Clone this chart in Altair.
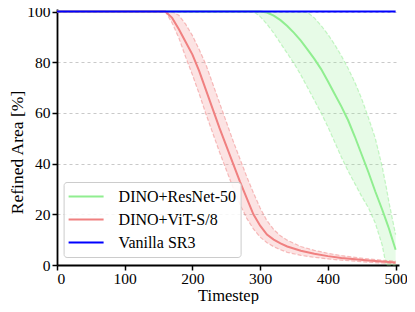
import altair as alt
import pandas as pd

# ---- data ----
red_t    = [0, 150, 160, 170, 180, 190, 200, 210, 220, 230, 240, 250, 260, 270, 280, 290, 300, 310, 320, 330, 340, 360, 380, 400, 420, 440, 460, 480, 500]
red_mean = [100, 100, 100, 97.5, 93, 88, 83, 76.5, 69, 61.5, 54, 47, 40, 33, 26.5, 20, 15.5, 12, 10, 8.5, 7.3, 5.6, 4.4, 3.5, 2.8, 2.3, 1.8, 1.4, 1.0]
red_lo   = [100, 100, 100, 95.5, 89.5, 82, 75, 67.5, 59.5, 52, 44.5, 37.5, 30.5, 24, 18.5, 14.2, 11, 8.8, 7.2, 6, 5, 3.8, 3, 2.4, 1.9, 1.5, 1.1, 0.8, 0.5]
red_hi   = [100, 100, 100, 100, 98.5, 95, 90.5, 85, 79, 71.5, 64, 56.5, 49, 42, 35, 28.5, 22.5, 17.5, 14, 11.5, 9.8, 7.3, 5.8, 4.6, 3.7, 3.0, 2.4, 1.9, 1.5]

green_t    = [0, 280, 290, 300, 310, 320, 330, 340, 350, 360, 370, 380, 390, 400, 410, 420, 430, 440, 450, 460, 470, 480, 486, 490, 500]
green_mean = [100, 100, 100, 100, 99.6, 98.4, 96.6, 94.3, 91.6, 88.5, 85, 81.3, 77.3, 72.5, 67.5, 62.5, 57, 50.5, 43.5, 36.5, 29, 22, 17.5, 14.5, 6]
green_lo   = [100, 100, 100, 98, 95, 91.5, 87.5, 83.5, 79.5, 75, 70, 65, 60, 54.5, 48.5, 42.5, 37, 32, 27, 22.5, 16.5, 8, 0, 0, 0]
green_hi   = [100, 100, 100, 100, 100, 100, 100, 100, 100, 100, 99.7, 97.5, 94.5, 91, 87, 82.5, 77.5, 72, 65.5, 58, 50, 39, 31, 25, 12]

vanilla_t    = [0, 500]
vanilla_mean = [100, 100]

series_names  = ["DINO+ResNet-50", "DINO+ViT-S/8", "Vanilla SR3"]
series_colors = ["#90EE90", "#F08080", "#0000FF"]
x_ticks = [0, 100, 200, 300, 400, 500]
y_ticks = [0, 20, 40, 60, 80, 100]

rows = []
for t, m, lo, hi in zip(green_t, green_mean, green_lo, green_hi):
    rows.append({"t": t, "mean": m, "lo": lo, "hi": hi, "series": series_names[0]})
for t, m, lo, hi in zip(red_t, red_mean, red_lo, red_hi):
    rows.append({"t": t, "mean": m, "lo": lo, "hi": hi, "series": series_names[1]})
for t, m in zip(vanilla_t, vanilla_mean):
    rows.append({"t": t, "mean": m, "lo": m, "hi": m, "series": series_names[2]})
df = pd.DataFrame(rows)

FONT = "Liberation Serif"

x = alt.X("t:Q", scale=alt.Scale(domain=[0, 505], nice=False, zero=False),
          axis=alt.Axis(values=x_ticks, title="Timestep", grid=False, format="d",
                        labelPadding=1, titleY=35, titleBaseline="alphabetic"))
yscale = alt.Scale(domain=[0, 101], nice=False)
yaxis = alt.Axis(values=y_ticks, title="Refined Area [%]", grid=True, format="d",
                 titleFontSize=17.5, titleX=-35, titleY=143, titleAlign="center",
                 titleBaseline="alphabetic", titleAngle=270)
color_scale = alt.Scale(domain=series_names, range=series_colors)
no_leg = alt.Color("series:N", scale=color_scale, legend=None)

not_vanilla = alt.datum.series != "Vanilla SR3"
base = alt.Chart(df)
bands = base.transform_filter(not_vanilla).mark_area(opacity=0.22).encode(
    x=x, y=alt.Y("lo:Q", scale=yscale, axis=yaxis), y2="hi:Q", color=no_leg)
lo_line = base.transform_filter(not_vanilla).mark_line(
    strokeWidth=1.2, strokeDash=[4, 2], opacity=0.5).encode(
    x=x, y=alt.Y("lo:Q", scale=yscale, axis=yaxis), color=no_leg)
hi_line = base.transform_filter(not_vanilla).mark_line(
    strokeWidth=1.2, strokeDash=[4, 2], opacity=0.5).encode(
    x=x, y=alt.Y("hi:Q", scale=yscale, axis=yaxis), color=no_leg)
legend = alt.Legend(title=None, orient="none", legendX=6.6, legendY=173,
                    symbolType="stroke", symbolSize=1225, symbolStrokeWidth=2,
                    labelFont=FONT, labelFontSize=16, labelColor="black",
                    fillColor="rgba(255,255,255,0.85)", strokeColor="#cccccc",
                    cornerRadius=3, padding=4, rowPadding=2, clipHeight=21,
                    labelOffset=14)
mean_line = base.transform_filter(not_vanilla).mark_line(strokeWidth=2).encode(
    x=x, y=alt.Y("mean:Q", scale=yscale, axis=yaxis),
    color=alt.Color("series:N", scale=color_scale, legend=legend))
blue_line = base.transform_filter(~not_vanilla).mark_line(strokeWidth=2).encode(
    x=x, y=alt.Y("mean:Q", scale=yscale, axis=yaxis), color=no_leg)

chart = alt.layer(bands, lo_line, hi_line, mean_line, blue_line).resolve_legend(
    color="independent"
).properties(
    width=342, height=256,
    autosize=alt.AutoSizeParams(type="none"),
    padding={"left": 49, "top": 1, "right": 8, "bottom": 39},
).configure_view(stroke=None).configure_axis(
    domainColor="black", domainWidth=1.8, tickColor="black", tickWidth=1.5, tickSize=5,
    labelFont=FONT, labelFontSize=15.5, labelColor="black", labelPadding=2,
    titleFont=FONT, titleFontSize=16.5, titleFontWeight="normal", titleColor="black",
    gridColor="#bbbbbb", gridDash=[3, 3], gridWidth=0.8,
)

chart.save("out.html", embed_options={"renderer": "svg", "actions": False})
